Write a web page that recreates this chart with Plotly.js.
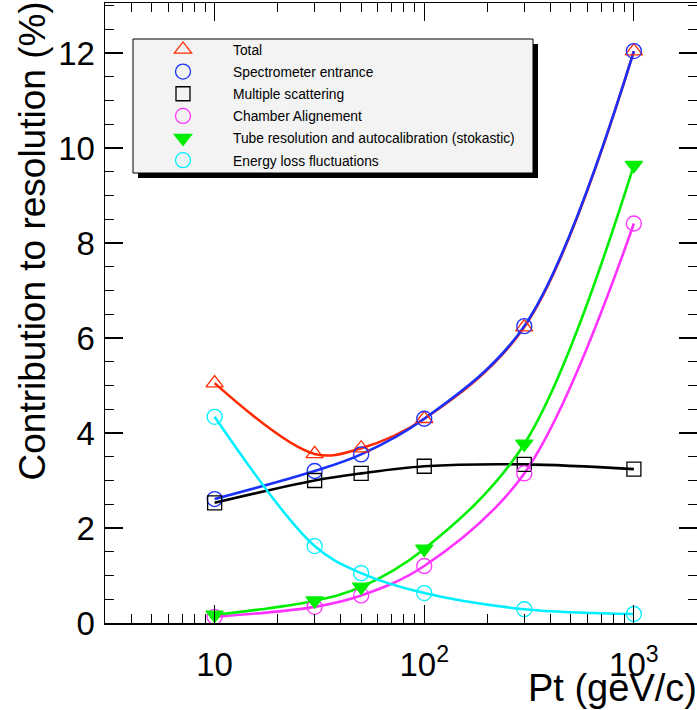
<!DOCTYPE html>
<html>
<head>
<meta charset="utf-8">
<script src="https://cdn.plot.ly/plotly-3.0.1.min.js"></script>
<style>html,body{margin:0;padding:0;background:#fff;}#chart{width:697px;height:710px;}</style>
</head>
<body>
<div id="chart"></div>
<script>
// ---- data ----
const pt = [10, 30, 50, 100, 300, 1000];
const seriesNames = [
  "Total",
  "Spectrometer entrance",
  "Multiple scattering",
  "Chamber Alignement",
  "Tube resolution and autocalibration (stokastic)",
  "Energy loss fluctuations"
];
const total        = [5.05, 3.56, 3.68, 4.30, 6.23, 12.04];
const spectrometer = [2.61, 3.20, 3.55, 4.30, 6.25, 12.04];
const multScatter  = [2.53, 3.00, 3.15, 3.30, 3.34, 3.24];
const chamberAlign = [0.13, 0.34, 0.58, 1.20, 3.15, 8.41];
const tubeRes      = [0.17, 0.47, 0.76, 1.56, 3.77, 9.64];
const energyLoss   = [4.34, 1.62, 1.05, 0.63, 0.29, 0.19];
const xTickVals = [10, 100, 1000];
const xTickText = ["10", "10<sup>2</sup>", "10<sup>3</sup>"];
const xMinorVals = [3,4,5,6,7,8,9,20,30,40,50,60,70,80,90,200,300,400,500,600,700,800,900,2000];
const yTickVals = [0, 2, 4, 6, 8, 10, 12];

// ---- styles ----
const values = [total, spectrometer, multScatter, chamberAlign, tubeRes, energyLoss];
const colors = ["#ff2a00", "#1a30ff", "#000000", "#ff33ff", "#00ee00", "#00f0ff"];
const symbols = ["triangle-up-open", "circle-open", "square-open", "circle-open", "triangle-down", "circle-open"];
const sizes = [15, 15, 14, 15, 15, 15];

const traces = [];
values.forEach((v, i) => {
  traces.push({
    x: pt, y: v, type: "scatter", mode: "lines",
    line: {color: colors[i], width: 2.6, shape: "spline", smoothing: 1},
    showlegend: false, hoverinfo: "skip"
  });
});
values.forEach((v, i) => {
  traces.push({
    x: pt, y: v, type: "scatter", mode: "markers", name: seriesNames[i],
    legendgroup: "g" + i,
    marker: {symbol: symbols[i], size: sizes[i], color: colors[i],
             line: {color: colors[i], width: 1.3}},
    showlegend: true
  });
});

const L = 105, T = 3, W = 697, H = 710, B = 87;
const pw = W - L, ph = H - T - B;
function px(xp){ return (xp - L) / pw; }
function py(yp){ return (H - B - yp) / ph; }

const boxL = 133, boxR = 533, boxT = 39, boxB = 173;
const FONT = "Liberation Sans, Arial, sans-serif";

const layout = {
  width: W, height: H,
  margin: {l: L, r: 0, t: T, b: B, pad: 0},
  paper_bgcolor: "#ffffff", plot_bgcolor: "#ffffff",
  font: {family: FONT, color: "#000"},
  showlegend: true,
  legend: {
    x: px(boxL), y: py(boxT - 5), xanchor: "left", yanchor: "top",
    bgcolor: "rgba(0,0,0,0)", borderwidth: 0,
    font: {size: 13.8, family: FONT, color: "#000"},
    itemwidth: 90, tracegroupgap: 1.2, traceorder: "grouped",
    itemclick: false, itemdoubleclick: false
  },
  xaxis: {
    type: "log", range: [Math.log10(3), Math.log10(2000)],
    showgrid: false, zeroline: false,
    showline: true, linecolor: "#000", linewidth: 1.5, mirror: "ticks",
    ticks: "inside", ticklen: 18, tickwidth: 1.2, tickcolor: "#000",
    tickmode: "array", tickvals: xTickVals, ticktext: xTickText,
    tickfont: {size: 33, family: FONT},
    ticklabelstandoff: 12,
    minor: {ticks: "inside", ticklen: 9, tickwidth: 1, tickcolor: "#000",
            tickmode: "array", tickvals: xMinorVals, showgrid: false}
  },
  yaxis: {
    range: [0, ph / 47.5],
    showgrid: false, zeroline: false,
    showline: true, linecolor: "#000", linewidth: 1.5, mirror: "ticks",
    ticks: "inside", ticklen: 18, tickwidth: 1.2, tickcolor: "#000",
    tickmode: "array", tickvals: yTickVals,
    tickfont: {size: 33, family: FONT},
    ticklabelstandoff: 2,
    minor: {ticks: "inside", ticklen: 9, tickwidth: 1, tickcolor: "#000",
            dtick: 0.5, showgrid: false}
  },
  shapes: [
    {type: "rect", xref: "paper", yref: "paper", layer: "above",
     x0: px(boxL + 5), x1: px(boxR + 5), y0: py(boxB + 5), y1: py(boxT + 5),
     fillcolor: "#000", line: {width: 0}},
    {type: "rect", xref: "paper", yref: "paper", layer: "above",
     x0: px(boxL), x1: px(boxR), y0: py(boxB), y1: py(boxT),
     fillcolor: "#f3f3f3", line: {color: "#000", width: 1}}
  ],
  annotations: [
    {text: "Contribution to resolution (%)", xref: "paper", yref: "paper",
     x: px(32), y: py(0), xanchor: "center", yanchor: "top", textangle: -90,
     showarrow: false, font: {size: 37, family: FONT, color: "#000"}},
    {text: "Pt (geV/c)", xref: "paper", yref: "paper",
     x: px(699), y: py(688), xanchor: "right", yanchor: "middle",
     showarrow: false, font: {size: 38, family: FONT, color: "#000"}}
  ]
};

Plotly.newPlot("chart", traces, layout, {staticPlot: true, displayModeBar: false});
</script>
</body>
</html>
